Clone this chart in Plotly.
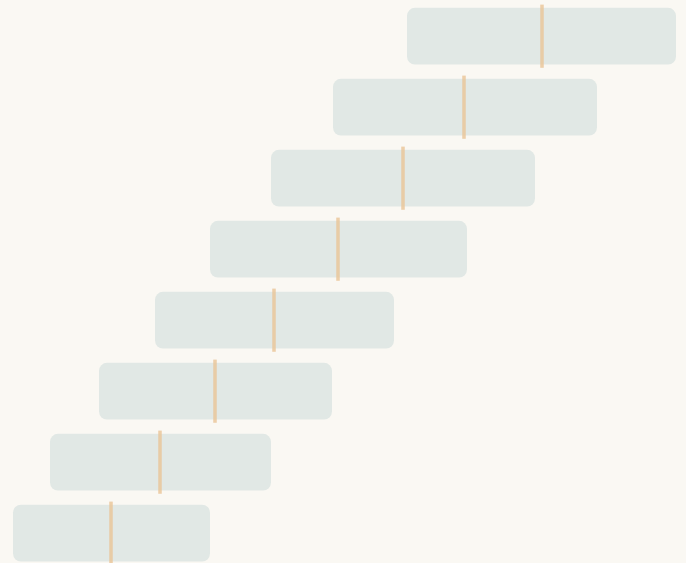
import plotly.graph_objects as go

rows = [0, 1, 2, 3, 4, 5, 6, 7]
low = [407, 333, 271, 210, 155, 99, 50, 13]
high = [676, 597, 535, 467, 394, 332, 271, 210]
median = [542, 464, 403, 338, 274, 215, 160, 111]

fig = go.Figure()
fig.add_trace(go.Bar(
    orientation="h",
    y=rows,
    base=low,
    x=[h - l for h, l in zip(high, low)],
    width=0.8,
    marker=dict(color="#e1e8e5", line=dict(width=0)),
    hoverinfo="skip",
))

mx, my = [], []
for r, m in zip(rows, median):
    mx += [m, m, None]
    my += [r - 0.445, r + 0.445, None]
fig.add_trace(go.Scatter(
    x=mx, y=my, mode="lines",
    line=dict(color="rgba(234,196,150,0.8)", width=3.5),
    hoverinfo="skip",
))

fig.update_layout(
    width=686, height=563,
    margin=dict(l=0, r=0, t=0, b=0),
    paper_bgcolor="#faf8f3",
    plot_bgcolor="#faf8f3",
    showlegend=False,
    barcornerradius=8,
    xaxis=dict(range=[0, 686], visible=False),
    yaxis=dict(range=[7.42, -0.51], visible=False),
)
fig.write_html(
    "out.html",
    config={"displayModeBar": False},
    post_script="document.body.style.margin='0';document.body.style.overflow='hidden';document.body.style.background='#faf8f3';",
)
